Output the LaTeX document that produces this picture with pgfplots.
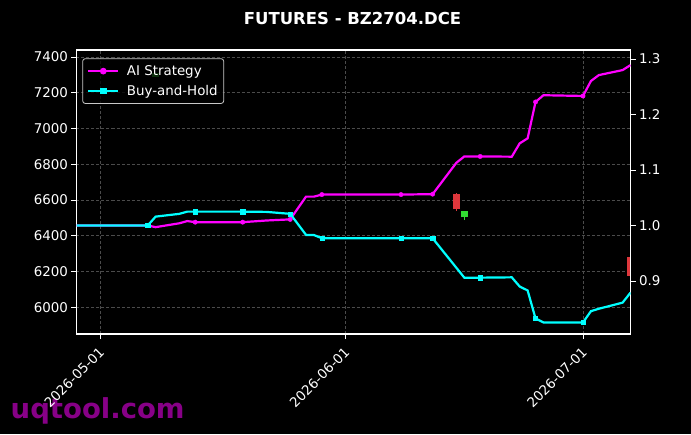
\documentclass[border=0pt]{standalone}
\usepackage{fontspec}
\setmainfont{DejaVu Sans}
\usepackage{pgfplots}
\pgfplotsset{compat=1.18}
\definecolor{candred}{RGB}{222,55,60}
\definecolor{candgreen}{RGB}{50,220,50}
\definecolor{gridc}{RGB}{75,75,75}
\definecolor{wm}{RGB}{135,0,135}
\definecolor{legedge}{RGB}{200,200,200}
\definecolor{aimag}{RGB}{255,0,255}
\definecolor{bhcyan}{RGB}{0,255,255}
\newcommand{\tfont}{\fontsize{13.4}{16}\selectfont}
\pgfplotsset{
  common/.style={
    scale only axis, width=554pt, height=284pt,
    at={(76.5pt,100pt)}, anchor=south west,
    xmin=-3, xmax=67,
    axis line style={white, line width=1.1pt},
    tick style={white, line width=0.9pt},
    major tick length=5pt, tick align=outside,
    ticklabel style={text=white, font=\tfont},
    label style={text=white, font=\tfont},
    /pgf/number format/assume math mode=true,
  }
}
\begin{document}
\begin{tikzpicture}[x=1pt,y=1pt]
\path[fill=black, use as bounding box] (0,0) rectangle (691,434);
\node[text=wm, font=\bfseries\fontsize{27.5}{30}\selectfont, anchor=base west, inner sep=0pt] at (10.5,16) {uqtool.com};
\node[text=white, font=\bfseries\fontsize{16.5}{20}\selectfont] at (352.5,416) {FUTURES - BZ2704.DCE};

\begin{axis}[common,
  ymin=5850.7, ymax=7439,
  ytick={6000,6200,6400,6600,6800,7000,7200,7400},
  yticklabel style={/pgf/number format/.cd, fixed, 1000 sep={}},
  xtick={0,31,61},
  xticklabels={2026-05-01,2026-06-01,2026-07-01},
  xticklabel style={rotate=45, anchor=north east, xshift=-3pt},
  tick pos=left,
  grid=major,
  grid style={gridc, dash pattern=on 3pt off 2pt, line width=0.6pt},
  ylabel={Price},
  every axis y label/.style={at={(axis description cs:0,0.5)}, xshift=-59.5pt, rotate=90, anchor=center},
]
% candles: wicks
\addplot[candred, line width=1pt] coordinates {(45,6540) (45,6640)};
\addplot[candgreen, line width=1pt] coordinates {(46,6488) (46,6540)};
\addplot[candred, line width=1pt] coordinates {(67,6172) (67,6285)};
\addplot[candgreen, line width=1pt] coordinates {(7,7286) (7,7312)};
% candles: bodies
\addplot[candred, line width=7pt] coordinates {(45,6548) (45,6634)};
\addplot[candgreen, line width=7pt] coordinates {(46,6503) (46,6539)};
\addplot[candred, line width=7pt] coordinates {(67,6175) (67,6283)};
\addplot[candgreen, line width=7pt] coordinates {(7,7290) (7,7309)};
\end{axis}

\begin{axis}[common,
  ymin=0.8045, ymax=1.3162,
  axis y line*=right, axis x line=none,
  ytick={0.9,1.0,1.1,1.2,1.3},
  yticklabel style={/pgf/number format/.cd, fixed, fixed zerofill, precision=1},
  ylabel={Return},
  every axis y label/.style={at={(axis description cs:1,0.5)}, xshift=43.5pt, rotate=90, anchor=center},
  legend image code/.code={\draw[mark repeat=2,mark phase=2,#1] plot coordinates {(0pt,0pt) (15pt,0pt) (30pt,0pt)};},
  legend cell align=left,
  legend style={at={(0,1)}, anchor=north west, xshift=5.8pt, yshift=-8.3pt,
    fill=black, fill opacity=0.8, draw opacity=1, text opacity=1,
    draw=legedge, line width=0.8pt, rounded corners=2.5pt, text=white, font=\tfont,
    inner xsep=4.5pt, inner ysep=2.6pt, row sep=0pt,
    nodes={inner xsep=1.5pt, inner ysep=4.1pt},
    /tikz/every odd column/.append style={column sep=6pt}},
]
\addlegendimage{aimag, line width=2.2pt, mark=*, mark size=2.2pt}
\addlegendentry{AI Strategy}
\addlegendimage{bhcyan, line width=2.2pt, mark=square*, mark size=2.1pt}
\addlegendentry{Buy-and-Hold}
% AI Strategy
\addplot[aimag, line width=2.2pt, forget plot] coordinates {
(-3,1.0) (6,1.0) (7,0.997) (10,1.004) (11,1.008) (12,1.006) (18,1.006) (21,1.009) (24,1.011)
(26,1.052) (27,1.052) (28,1.0557) (38,1.0557) (42,1.0565) (45,1.113) (46,1.1244) (48,1.1244)
(52,1.124) (53,1.148) (54,1.157) (55,1.2226) (56,1.2347) (61,1.2334) (62,1.2603) (63,1.271)
(66,1.280) (67,1.289)};
\addplot[only marks, aimag, mark=*, mark size=2.2pt, forget plot] coordinates {
(6,1.0) (12,1.006) (18,1.006) (24,1.011) (28,1.0557) (38,1.0557) (42,1.0565) (48,1.1244) (55,1.2226) (61,1.2334)};
% Buy-and-Hold
\addplot[bhcyan, line width=2.2pt, forget plot] coordinates {
(-3,1.0) (6,1.0) (7,1.016) (10,1.021) (11,1.025) (12,1.025) (18,1.025) (21,1.0245) (24,1.021)
(26,0.983) (27,0.9828) (28,0.977) (38,0.977) (42,0.977) (46,0.906) (48,0.906) (52,0.9066)
(53,0.890) (54,0.883) (55,0.8325) (56,0.8253) (61,0.8253) (62,0.8456) (63,0.850) (66,0.861) (67,0.879)};
\addplot[only marks, bhcyan, mark=square*, mark size=2.1pt, forget plot] coordinates {
(6,1.0) (12,1.025) (18,1.025) (24,1.021) (28,0.977) (38,0.977) (42,0.977) (48,0.906) (55,0.8325) (61,0.8253)};
\end{axis}
\end{tikzpicture}
\end{document}
